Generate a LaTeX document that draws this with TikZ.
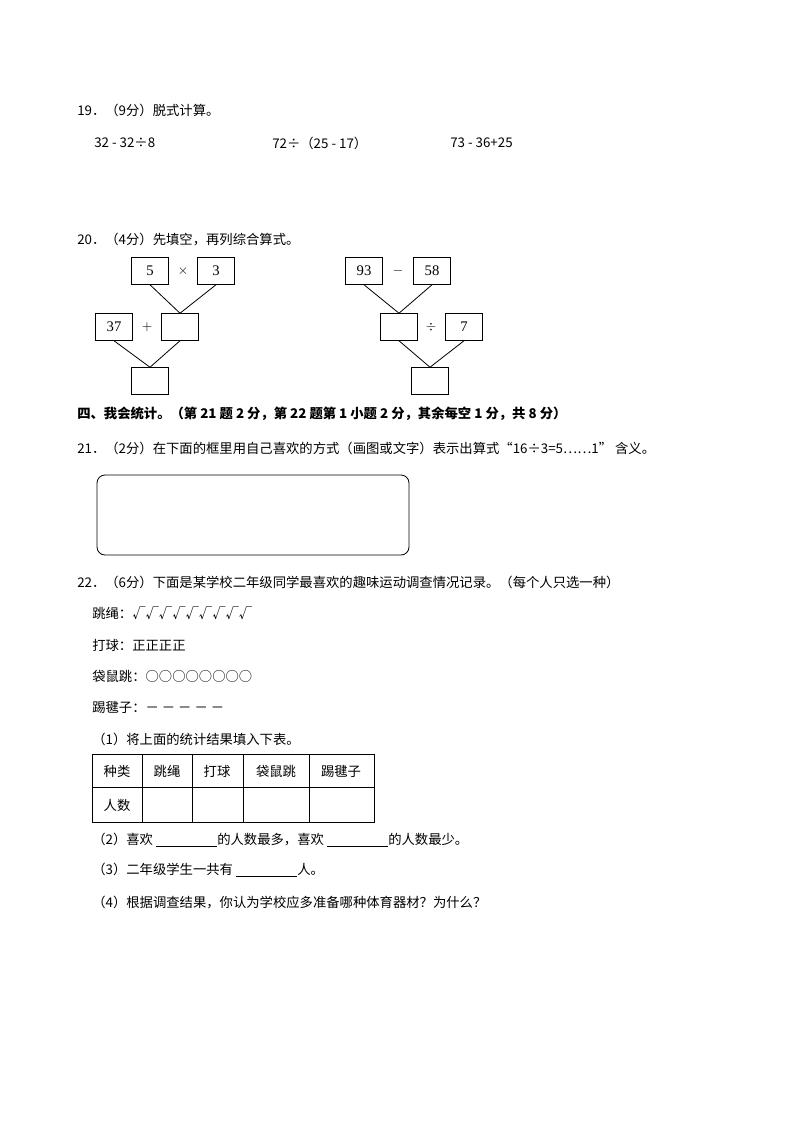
\documentclass[tikz,border=0pt]{standalone}
\usepackage{fontspec}
\setmainfont{Liberation Serif}
\newfontfamily\cjk{Noto Sans CJK SC}
\begin{document}
\begin{tikzpicture}[x=0.75pt,y=-0.75pt,
  txt/.style={anchor=west,inner sep=0,font=\cjk\fontsize{10}{12}\selectfont},
  num/.style={draw,minimum width=37*0.75pt,minimum height=27*0.75pt,inner sep=0,font=\fontsize{11}{12}\selectfont},
  lnk/.style={line width=0.6pt}]
\useasboundingbox (0,0) rectangle (794,1123);
\node[txt] (q19) at (77,110) {19．（9分）脱式计算。};
\node[txt] (e1) at (94,143) {32 - 32÷8};
\node[txt] (e2) at (272,143) {72÷（25 - 17）};
\node[txt] (e3) at (450,143) {73 - 36+25};
\node[txt] (q20) at (77,240) {20．（4分）先填空，再列综合算式。};
% left tree
\node[num] (a5) at (150,271) {5};
\node[num] (a3) at (216,271) {3};
\node (ax) at (183,271) {$\times$};
\node[num] (a37) at (114,327) {37};
\node[num] (ae) at (180,327) {};
\node (ap) at (147,327) {$+$};
\node[num] (ab) at (150,381) {};
\draw[lnk] (a5.south) -- (ae.north);
\draw[lnk] (a3.south) -- (ae.north);
\draw[lnk] (a37.south) -- (ab.north);
\draw[lnk] (ae.south) -- (ab.north);
% right tree
\node[num] (b93) at (364,271) {93};
\node[num] (b58) at (432,271) {58};
\node (bm) at (398,271) {$-$};
\node[num] (be) at (399,327) {};
\node[num] (b7) at (464,327) {7};
\node (bd) at (431,327) {$\div$};
\node[num] (bb) at (430,381) {};
\draw[lnk] (b93.south) -- (be.north);
\draw[lnk] (b58.south) -- (be.north);
\draw[lnk] (be.south) -- (bb.north);
\draw[lnk] (b7.south) -- (bb.north);
\node[txt,font=\cjk\bfseries\fontsize{10}{12}\selectfont] (h4) at (77,414) {四、我会统计。（第 21 题 2 分，第 22 题第 1 小题 2 分，其余每空 1 分，共 8 分）};
\node[txt] (q21) at (77,448) {21．（2分）在下面的框里用自己喜欢的方式（画图或文字）表示出算式“16÷3=5……1” 含义。};
\draw[rounded corners=6pt,line width=0.6pt] (97,475) rectangle (409,555);
\node[txt] (q22) at (77,582) {22．（6分）下面是某学校二年级同学最喜欢的趣味运动调查情况记录。（每个人只选一种）};
\node[txt] (r1) at (92,613) {跳绳：√√√√√√√√√};
\node[txt] (r2) at (92,645) {打球：正正正正};
\node[txt] (r3) at (92,676) {袋鼠跳：○○○○○○○○};
\node[txt] (r4) at (92,707) {踢毽子：－ － － － －};
\node[txt] (p1) at (92,739) {（1）将上面的统计结果填入下表。};
\draw[line width=0.5pt] (92,754) rectangle (374,822);
\draw[line width=0.5pt] (92,787) -- (374,787);
\foreach \x in {142,192,243,309} \draw[line width=0.5pt] (\x,754) -- (\x,822);
\node[txt,anchor=center] at (117,771) {种类};
\node[txt,anchor=center] at (167,771) {跳绳};
\node[txt,anchor=center] at (217,771) {打球};
\node[txt,anchor=center] at (276,771) {袋鼠跳};
\node[txt,anchor=center] at (341,771) {踢毽子};
\node[txt,anchor=center] at (117,805) {人数};
\node[txt] (p2) at (92,840) {（2）喜欢 \underline{\hspace{46pt}}的人数最多，喜欢 \underline{\hspace{46pt}}的人数最少。};
\node[txt] (p3) at (92,870) {（3）二年级学生一共有 \underline{\hspace{46pt}}人。};
\node[txt] (p4) at (92,902) {（4）根据调查结果，你认为学校应多准备哪种体育器材？为什么？};
\end{tikzpicture}
\end{document}
